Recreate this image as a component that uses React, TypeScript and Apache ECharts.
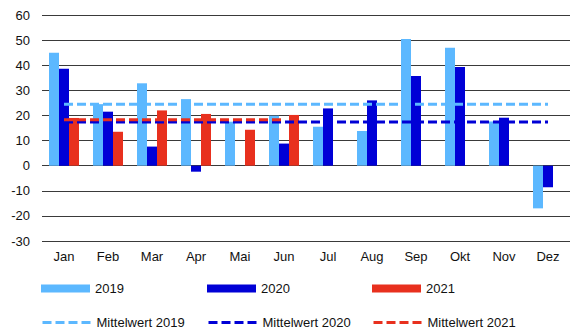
import React, { useEffect, useRef } from "react";
import * as echarts from "echarts";

const months = ["Jan", "Feb", "Mar", "Apr", "Mai", "Jun", "Jul", "Aug", "Sep", "Okt", "Nov", "Dez"];
const values2019 = [45, 24.5, 32.8, 26.5, 17.5, 19.9, 15.5, 13.8, 50.4, 47, 17.6, -17];
const values2020 = [38.6, 21.5, 7.6, -2.4, 0, 8.8, 22.8, 26, 35.7, 39.3, 19.1, -8.6];
const values2021 = [19, 13.5, 22, 20.6, 14.3, 20.2];
const yTicks = { min: -30, max: 60, interval: 10 };

const colors = { y2019: "#5cb8ff", y2020: "#0000d6", y2021: "#e8301e" };

const mean = (arr: number[]) => arr.reduce((s, v) => s + v, 0) / arr.length;

// horizontal reference line across the months that have data
const meanLine = (arr: number[]) => months.map((_, i) => (i < arr.length ? mean(arr) : null));

export default function App() {
  const ref = useRef<HTMLDivElement>(null);

  useEffect(() => {
    if (!ref.current) return;
    const chart = echarts.init(ref.current, null, { renderer: "svg" });
    const font = { fontFamily: "Liberation Sans, Arial, sans-serif", fontSize: 13, color: "#111" };
    const dash = [9, 4];

    const legendAt = (name: string, left: number, top: number, isLine: boolean) => ({
      show: true,
      data: [isLine ? { name, itemStyle: { opacity: 0 } } : { name, icon: "rect" }],
      left,
      top,
      itemWidth: 49,
      itemHeight: 8,
      itemGap: 0,
      padding: 0,
      lineStyle: isLine ? { width: 3, type: dash } : undefined,
      textStyle: { ...font, padding: [0, 0, 0, 0] },
    });

    chart.setOption({
      animation: false,
      grid: { left: 42, right: 1, top: 15, bottom: 94, containLabel: false },
      legend: [
        legendAt("2019", 41, 282, false),
        legendAt("2020", 207, 282, false),
        legendAt("2021", 372, 282, false),
        legendAt("Mittelwert 2019", 41, 316, true),
        legendAt("Mittelwert 2020", 207, 316, true),
        legendAt("Mittelwert 2021", 372, 316, true),
      ],
      xAxis: {
        type: "category",
        data: months,
        boundaryGap: true,
        axisLine: { show: false },
        axisTick: { show: false },
        axisLabel: { ...font, margin: 9 },
      },
      yAxis: {
        type: "value",
        min: yTicks.min,
        max: yTicks.max,
        interval: yTicks.interval,
        axisLine: { show: false },
        axisTick: { show: false },
        axisLabel: { ...font, margin: 12 },
        splitLine: { lineStyle: { color: "#3a3a3a", width: 1 } },
      },
      series: [
        { name: "2019", type: "bar", data: values2019, barWidth: 10, barGap: "0%", itemStyle: { color: colors.y2019 } },
        { name: "2020", type: "bar", data: values2020, barWidth: 10, barGap: "0%", itemStyle: { color: colors.y2020 } },
        { name: "2021", type: "bar", data: values2021, barWidth: 10, barGap: "0%", itemStyle: { color: colors.y2021 } },
        {
          name: "Mittelwert 2019",
          type: "line",
          data: meanLine(values2019),
          symbol: "none",
          lineStyle: { color: colors.y2019, width: 3, type: dash },
          itemStyle: { color: colors.y2019 },
        },
        {
          name: "Mittelwert 2020",
          type: "line",
          data: meanLine(values2020),
          symbol: "none",
          lineStyle: { color: colors.y2020, width: 3, type: dash },
          itemStyle: { color: colors.y2020 },
        },
        {
          name: "Mittelwert 2021",
          type: "line",
          data: meanLine(values2021),
          symbol: "none",
          lineStyle: { color: colors.y2021, width: 3, type: dash },
          itemStyle: { color: colors.y2021 },
        },
      ],
    });
    return () => chart.dispose();
  }, []);

  return <div ref={ref} style={{ width: 571, height: 335, position: "absolute", left: 0, top: 0 }} />;
}
